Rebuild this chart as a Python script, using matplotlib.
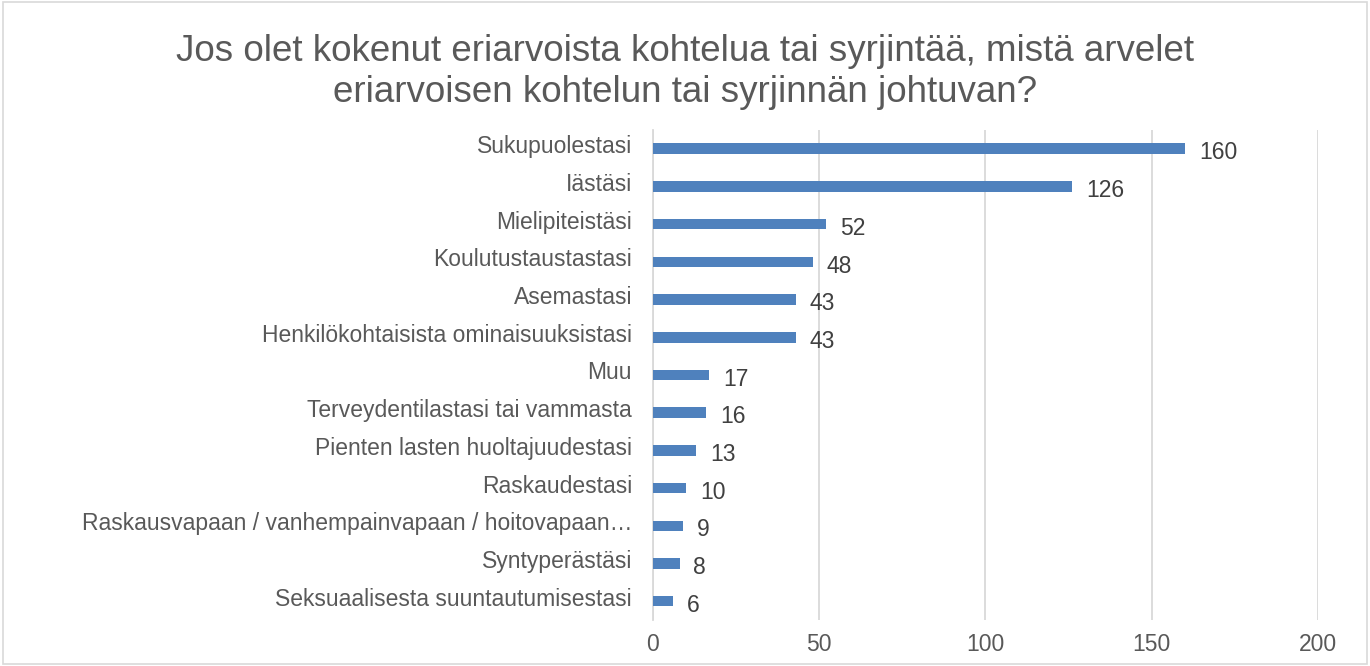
import matplotlib.pyplot as plt
from matplotlib.patches import Rectangle
from matplotlib.transforms import ScaledTranslation

plt.rcParams['font.family'] = ['Liberation Sans', 'DejaVu Sans']

categories = [
    'Sukupuolestasi',
    'Iästäsi',
    'Mielipiteistäsi',
    'Koulutustaustastasi',
    'Asemastasi',
    'Henkilökohtaisista ominaisuuksistasi',
    'Muu',
    'Terveydentilastasi tai vammasta',
    'Pienten lasten huoltajuudestasi',
    'Raskaudestasi',
    'Raskausvapaan / vanhempainvapaan / hoitovapaan…',
    'Syntyperästäsi',
    'Seksuaalisesta suuntautumisestasi',
]
values = [160, 126, 52, 48, 43, 43, 17, 16, 13, 10, 9, 8, 6]
xticks = [0, 50, 100, 150, 200]

title = ('Jos olet kokenut eriarvoista kohtelua tai syrjintää, mistä arvelet\n'
         'eriarvoisen kohtelun tai syrjinnän johtuvan?')

bar_color = '#4F81BD'
text_color = '#595959'
grid_color = '#D9D9D9'

fig = plt.figure(figsize=(13.7, 6.66), dpi=100)
ax = fig.add_axes([0.4766, 0.069, 0.4854, 0.736])

ypos = list(range(len(categories)))
ax.barh(ypos, values, height=0.28, color=bar_color, zorder=3)
ax.set_ylim(len(categories) - 0.5, -0.5)
ax.set_xlim(0, 200)

ax.set_xticks(xticks)
ax.set_xticklabels([str(t) for t in xticks])
ax.set_yticks(ypos)
ax.set_yticklabels(categories)
ax.tick_params(axis='x', length=0, labelsize=16.5, colors=text_color, pad=9)
ax.tick_params(axis='y', length=0, labelsize=16.5, colors=text_color, pad=15)
shift_up = ScaledTranslation(0, 0.045, fig.dpi_scale_trans)
for lab in ax.get_yticklabels():
    lab.set_transform(lab.get_transform() + shift_up)

ax.grid(axis='x', color=grid_color, linewidth=1.3, zorder=0)
for side in ['top', 'right', 'bottom']:
    ax.spines[side].set_visible(False)
ax.spines['left'].set_color(grid_color)
ax.spines['left'].set_linewidth(1.3)

for y, v in zip(ypos, values):
    ax.annotate(str(v), (v, y), xytext=(10, -3), textcoords='offset points',
                ha='left', va='center', fontsize=16.5, color='#404040')

fig.text(0.5, 0.892, title, ha='center', va='center', fontsize=26.5,
         color=text_color, linespacing=1.2)

fig.patches.append(Rectangle((0.002, 0.003), 0.996, 0.994, transform=fig.transFigure,
                             fill=False, edgecolor=grid_color, linewidth=1.2))

fig.savefig('out.png', dpi=100)
